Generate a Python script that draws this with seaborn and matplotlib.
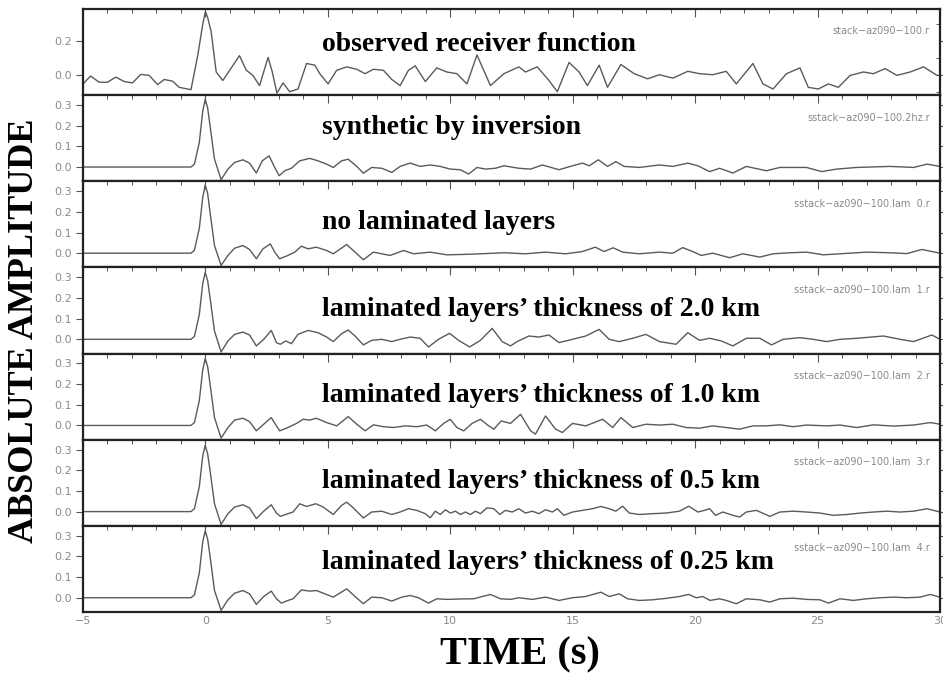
import numpy as np
import pandas as pd
import matplotlib
matplotlib.use("Agg")
import matplotlib.pyplot as plt
import seaborn as sns
from matplotlib.ticker import MultipleLocator, FixedLocator

sns.set_theme(style="white")
plt.rcParams['font.family'] = ['DejaVu Sans']

# ---------------- data (time in s, amplitude) ----------------
t_obs = [-5.0, -4.69, -4.34, -4.0, -3.66, -3.32, -2.98, -2.64, -2.30, -1.95, -1.68, -1.34, -1.07, -0.59,
         -0.31, -0.11, 0.0, 0.09, 0.23, 0.44, 0.71, 1.39, 1.67, 1.94, 2.21, 2.56, 2.73, 2.92, 3.17, 3.44,
         3.78, 4.13, 4.47, 4.67, 5.01, 5.36, 5.77, 6.18, 6.52, 6.86, 7.27, 7.61, 7.95, 8.29, 8.57, 8.98,
         9.45, 9.86, 10.27, 10.68, 11.09, 11.64, 12.19, 12.80, 13.07, 13.55, 14.03, 14.37, 14.85, 15.26,
         15.60, 16.08, 16.42, 16.97, 17.51, 18.06, 18.54, 19.09, 19.70, 20.18, 20.72, 21.27, 21.68, 22.36,
         22.77, 23.18, 23.73, 24.28, 24.62, 25.03, 25.44, 25.85, 26.33, 26.87, 27.28, 27.76, 28.24, 28.78,
         29.33, 29.88, 30.0]
a_obs = [-0.05, -0.004, -0.04, -0.04, -0.01, -0.036, -0.044, 0.006, 0.0, -0.054, -0.024, -0.034, -0.07, -0.084,
         0.12, 0.30, 0.376, 0.34, 0.26, 0.02, -0.03, 0.116, 0.03, 0.0, -0.06, 0.106, 0.02, -0.104, -0.044, -0.096,
         -0.08, 0.07, 0.06, 0.01, -0.05, 0.03, 0.05, 0.036, 0.01, 0.036, 0.03, -0.024, -0.06, 0.03, 0.056, -0.036,
         0.044, 0.02, 0.01, -0.05, 0.12, -0.06, 0.01, 0.05, 0.02, 0.05, -0.03, -0.096, 0.076, 0.02,
         -0.06, 0.06, -0.07, 0.064, 0.01, -0.02, 0.004, -0.016, 0.024, 0.01, 0.004, 0.024, -0.05, 0.07,
         -0.05, -0.08, 0.01, 0.044, -0.07, -0.08, -0.05, -0.07, 0.0, 0.02, 0.01, 0.04, 0.0, 0.02,
         0.05, 0.0, 0.0]

t_inv = [-5.0, -0.59, -0.45, -0.25, -0.11, -0.01, 0.09, 0.19, 0.37, 0.64, 0.92, 1.19, 1.53, 1.80, 2.08, 2.32,
         2.60, 2.83, 3.01, 3.24, 3.51, 3.85, 4.26, 4.60, 4.95, 5.22, 5.56, 5.83, 6.18, 6.45, 6.79, 7.20, 7.61,
         7.95, 8.36, 8.77, 9.18, 9.59, 10.00, 10.41, 10.75, 11.09, 11.43, 11.84, 12.19, 12.80, 13.28, 13.76,
         14.44, 14.99, 15.40, 15.67, 16.05, 16.42, 16.76, 17.10, 17.72, 18.54, 19.09, 19.70, 20.11, 20.59,
         21.00, 21.54, 22.09, 22.91, 23.46, 24.55, 25.16, 25.78, 26.60, 27.96, 28.92, 29.47, 30.0]
a_inv = [0.0, 0.0, 0.014, 0.119, 0.27, 0.327, 0.287, 0.199, 0.038, -0.061, -0.010, 0.022, 0.035, 0.019, -0.029, 0.030,
         0.054, -0.002, -0.042, -0.018, -0.006, 0.030, 0.042, 0.030, 0.014, -0.002, 0.030, 0.038, 0.003, -0.030, -0.002, -0.006, -0.026,
         0.003, 0.019, 0.003, 0.010, 0.003, -0.010, -0.013, -0.034, -0.002, -0.010, -0.006, 0.006, -0.006, -0.010, 0.010,
         -0.013, 0.006, 0.019, 0.006, 0.035, 0.003, 0.026, 0.003, -0.002, 0.010, 0.003, 0.019, 0.006, -0.022,
         -0.006, -0.029, 0.003, -0.018, -0.002, -0.002, -0.022, -0.010, -0.002, 0.003, -0.002, 0.014, 0.003]

t_lam0 = [-5.0, -0.59, -0.45, -0.25, -0.11, -0.01, 0.09, 0.19, 0.37, 0.64, 0.92, 1.19, 1.53, 1.80, 2.08, 2.35,
          2.65, 2.83, 3.03, 3.37, 3.65, 3.92, 4.19, 4.53, 4.95, 5.22, 5.77, 6.11, 6.45, 6.86, 7.20, 7.54, 8.09,
          8.50, 9.18, 9.86, 10.55, 11.23, 12.19, 13.07, 13.89, 14.71, 15.40, 15.92, 16.28, 16.65, 17.04, 17.72,
          18.54, 19.09, 19.49, 19.90, 20.25, 20.72, 21.41, 21.95, 22.64, 23.18, 23.87, 24.55, 25.23, 25.92,
          27.01, 27.96, 28.65, 29.26, 30.0]
a_lam0 = [0.0, 0.0, 0.014, 0.12, 0.27, 0.33, 0.29, 0.197, 0.037, -0.059, -0.011, 0.024, 0.037, 0.018, -0.027, 0.021,
          0.045, 0.005, -0.027, -0.011, 0.005, 0.034, 0.021, 0.029, 0.013, -0.003, 0.042, 0.005, -0.032, 0.005, -0.003, -0.011, 0.013,
          -0.003, 0.005, -0.008, -0.006, -0.003, 0.002, -0.003, 0.005, -0.003, 0.008, 0.029, 0.008, 0.026, 0.005, -0.003,
          0.005, 0.0, 0.027, 0.008, -0.011, 0.0, -0.022, -0.003, -0.019, -0.003, 0.002, 0.005, -0.008, -0.003,
          0.005, 0.002, -0.002, 0.018, 0.0]

t_lam1 = [-5.0, -0.59, -0.45, -0.25, -0.11, -0.01, 0.09, 0.19, 0.37, 0.64, 0.92, 1.19, 1.53, 1.80, 2.08, 2.38,
          2.69, 2.90, 3.06, 3.28, 3.51, 3.78, 4.19, 4.60, 4.95, 5.22, 5.56, 5.83, 6.11, 6.45, 6.79, 7.20, 7.61,
          7.95, 8.36, 8.77, 9.11, 9.52, 9.97, 10.34, 10.79, 11.23, 11.71, 12.12, 12.46, 12.73, 13.21, 13.62,
          14.03, 14.44, 14.99, 15.53, 16.08, 16.49, 16.90, 17.45, 17.99, 18.54, 19.22, 19.70, 20.18, 20.59,
          21.07, 21.54, 22.09, 22.64, 23.12, 23.59, 24.28, 24.82, 25.37, 25.92, 26.60, 27.69, 28.37, 28.92,
          29.67, 30.0]
a_lam1 = [0.0, 0.0, 0.014, 0.12, 0.27, 0.324, 0.285, 0.2, 0.040, -0.061, -0.008, 0.024, 0.035, 0.021, -0.032, 0.0,
          0.043, -0.016, -0.024, -0.008, -0.021, 0.024, 0.043, 0.032, 0.011, -0.011, 0.027, 0.045, 0.016, -0.027, -0.005, 0.0, -0.011,
          0.0, 0.011, 0.005, -0.037, 0.0, 0.029, -0.005, -0.037, -0.005, 0.053, -0.011, -0.032, -0.011, 0.016, 0.011,
          0.021, -0.016, 0.0, 0.016, 0.048, 0.0, -0.011, 0.005, 0.024, -0.011, -0.024, 0.032, -0.005, 0.005,
          -0.008, -0.032, 0.005, 0.005, -0.027, 0.0, 0.008, 0.0, -0.011, 0.0, 0.005, 0.016, 0.0, -0.011,
          0.021, 0.0]

t_lam2 = [-5.0, -0.59, -0.45, -0.25, -0.11, -0.01, 0.09, 0.19, 0.37, 0.64, 0.92, 1.19, 1.53, 1.80, 2.08, 2.38,
          2.69, 2.90, 3.03, 3.37, 3.72, 3.99, 4.26, 4.53, 4.95, 5.36, 5.83, 6.18, 6.52, 6.86, 7.27, 7.68, 8.16,
          8.63, 9.04, 9.39, 9.73, 10.00, 10.27, 10.55, 10.89, 11.23, 11.57, 11.78, 12.08, 12.46, 12.87, 13.28,
          13.48, 13.89, 14.30, 14.58, 14.99, 15.53, 16.22, 16.63, 16.97, 17.45, 17.99, 18.54, 19.09, 19.63,
          20.18, 20.72, 21.27, 21.82, 22.36, 22.91, 23.46, 24.00, 24.55, 25.37, 25.92, 26.60, 27.28, 28.10,
          28.92, 29.60, 30.0]
a_lam2 = [0.0, 0.0, 0.014, 0.12, 0.27, 0.324, 0.285, 0.2, 0.038, -0.061, -0.010, 0.026, 0.035, 0.019, -0.026, 0.006,
          0.038, -0.002, -0.026, -0.010, 0.010, 0.030, 0.026, 0.035, 0.014, -0.002, 0.043, 0.006, -0.026, 0.003, -0.006, -0.010, -0.002,
          -0.006, 0.002, -0.026, 0.010, 0.030, -0.010, -0.026, 0.010, 0.030, -0.002, -0.018, 0.022, 0.010, 0.054, -0.026,
          -0.042, 0.046, -0.018, -0.034, 0.010, -0.002, 0.030, -0.010, 0.038, -0.010, 0.006, 0.002, 0.006, -0.010,
          -0.013, -0.002, -0.010, -0.018, -0.002, -0.002, 0.003, -0.006, 0.002, -0.002, 0.002, -0.010, 0.003, -0.003,
          0.002, 0.014, 0.006]

t_lam3 = [-5.0, -0.59, -0.45, -0.25, -0.11, -0.01, 0.09, 0.19, 0.37, 0.64, 0.92, 1.19, 1.53, 1.80, 2.08, 2.38,
          2.69, 2.90, 3.06, 3.37, 3.58, 3.85, 4.13, 4.51, 4.81, 5.22, 5.56, 5.77, 6.04, 6.45, 6.79, 7.20, 7.61,
          7.95, 8.29, 8.63, 8.98, 9.18, 9.39, 9.59, 9.80, 10.00, 10.21, 10.41, 10.62, 10.82, 11.03, 11.23, 11.50,
          11.78, 12.02, 12.25, 12.53, 12.80, 13.07, 13.35, 13.62, 13.89, 14.17, 14.37, 14.64, 14.99, 15.40,
          15.81, 16.15, 16.49, 16.76, 17.04, 17.31, 17.72, 18.26, 18.81, 19.36, 19.74, 20.11, 20.38, 20.59,
          20.83, 21.13, 21.54, 21.82, 22.09, 22.50, 23.05, 23.46, 24.00, 24.55, 25.10, 25.64, 26.19, 26.74,
          27.28, 27.83, 28.37, 28.92, 29.47, 30.0]
a_lam3 = [0.0, 0.0, 0.014, 0.12, 0.27, 0.32, 0.28, 0.198, 0.038, -0.062, -0.010, 0.022, 0.033, 0.018, -0.034, 0.002,
          0.033, -0.007, -0.023, -0.010, -0.002, 0.038, 0.025, 0.038, 0.022, -0.014, 0.030, 0.046, 0.018, -0.031, -0.002, 0.002, -0.014,
          -0.002, 0.014, 0.006, -0.010, -0.030, 0.002, -0.014, 0.009, -0.007, 0.002, -0.014, -0.002, -0.014, 0.002, -0.010, 0.018,
          0.014, -0.014, 0.006, -0.002, 0.014, -0.007, 0.002, -0.010, 0.009, -0.002, 0.014, -0.018, -0.002, 0.006,
          0.014, 0.025, 0.014, 0.002, 0.026, -0.007, -0.014, -0.010, -0.007, 0.002, 0.026, -0.002, 0.006, 0.014,
          -0.018, -0.002, -0.018, -0.026, -0.002, 0.006, -0.023, -0.002, 0.002, -0.002, -0.007, -0.018, -0.014, -0.007,
          -0.002, 0.002, -0.002, 0.002, 0.014, -0.002]

t_lam4 = [-5.0, -0.59, -0.45, -0.25, -0.11, -0.01, 0.09, 0.19, 0.37, 0.64, 0.92, 1.19, 1.53, 1.80, 2.08, 2.38,
          2.69, 2.90, 3.10, 3.37, 3.58, 3.92, 4.26, 4.53, 4.88, 5.22, 5.77, 6.11, 6.45, 6.79, 7.20, 7.61, 8.02,
          8.36, 8.70, 9.11, 9.45, 9.86, 10.41, 10.96, 11.64, 12.05, 12.46, 12.80, 13.35, 13.89, 14.44, 14.99,
          15.53, 16.15, 16.49, 16.90, 17.24, 17.72, 18.26, 18.81, 19.36, 19.74, 20.04, 20.31, 20.61, 21.00,
          21.27, 21.68, 22.09, 22.64, 23.05, 23.46, 24.00, 24.55, 25.10, 25.44, 25.92, 26.46, 27.01, 27.55,
          28.10, 28.65, 29.19, 29.60, 30.0]
a_lam4 = [0.0, 0.0, 0.014, 0.12, 0.27, 0.324, 0.285, 0.2, 0.035, -0.061, -0.010, 0.022, 0.035, 0.019, -0.032, 0.006,
          0.032, -0.005, -0.026, -0.013, -0.005, 0.038, 0.032, 0.035, 0.019, 0.003, 0.043, 0.006, -0.029, 0.003, 0.0, -0.016, 0.003,
          0.011, 0.0, -0.026, -0.005, -0.008, -0.006, -0.005, 0.016, -0.005, -0.008, 0.0, -0.008, 0.003, -0.013, 0.0,
          0.006, 0.027, 0.006, 0.019, -0.005, -0.013, -0.010, -0.003, 0.006, 0.016, 0.0, 0.006, -0.013, -0.005,
          -0.013, -0.029, -0.005, -0.010, -0.021, -0.005, -0.002, -0.008, -0.010, -0.026, -0.005, -0.013, -0.005, 0.0,
          0.003, 0.0, 0.003, 0.016, 0.003]

titles = ["observed receiver function",
          "synthetic by inversion",
          "no laminated layers",
          "laminated layers\u2019 thickness of 2.0 km",
          "laminated layers\u2019 thickness of 1.0 km",
          "laminated layers\u2019 thickness of 0.5 km",
          "laminated layers\u2019 thickness of 0.25 km"]
file_labels = ["stack\u2212az090\u2212100.r",
               "sstack\u2212az090\u2212100.2hz.r",
               "sstack\u2212az090\u2212100.lam  0.r",
               "sstack\u2212az090\u2212100.lam  1.r",
               "sstack\u2212az090\u2212100.lam  2.r",
               "sstack\u2212az090\u2212100.lam  3.r",
               "sstack\u2212az090\u2212100.lam  4.r"]
x_ticks = [-5, 0, 5, 10, 15, 20, 25, 30]
top_yticks = [0.0, 0.2]
other_yticks = [0.0, 0.1, 0.2, 0.3]

series = [(t_obs, a_obs), (t_inv, a_inv), (t_lam0, a_lam0), (t_lam1, a_lam1),
          (t_lam2, a_lam2), (t_lam3, a_lam3), (t_lam4, a_lam4)]

# ---------------- layout ----------------
fig = plt.figure(figsize=(9.43, 6.75), dpi=100)
left, right = 83 / 943, 940 / 943
top, bottom = 1 - 9 / 675, 1 - 612 / 675
axes = fig.subplots(7, 1, sharex=True,
                    gridspec_kw=dict(hspace=0, left=left, right=right, top=top, bottom=bottom))

title_y = [0.59, 0.62, 0.52, 0.51, 0.51, 0.52, 0.58]
tick_color = "#8a8a8a"
line_color = "#5a5a5a"

for i, ax in enumerate(axes):
    t, a = series[i]
    df = pd.DataFrame({"time": t, "amp": a})
    sns.lineplot(data=df, x="time", y="amp", ax=ax, color=line_color, lw=1.0,
                 estimator=None, sort=False)
    ax.set_xlim(-5, 30)
    if i == 0:
        ax.set_ylim(-0.116, 0.39)
        ax.yaxis.set_major_locator(FixedLocator(top_yticks))
        ax.yaxis.set_minor_locator(MultipleLocator(0.1))
    else:
        ax.set_ylim(-0.069, 0.348)
        ax.yaxis.set_major_locator(FixedLocator(other_yticks))
    ax.yaxis.set_major_formatter(matplotlib.ticker.FormatStrFormatter("%.1f"))
    ax.xaxis.set_major_locator(FixedLocator(x_ticks))
    ax.xaxis.set_minor_locator(MultipleLocator(1))
    ax.tick_params(axis="both", which="major", direction="in", length=6, width=0.8,
                   color="#555555", top=True, right=True, labelsize=8, labelcolor=tick_color, pad=3)
    ax.tick_params(axis="both", which="minor", direction="in", length=3, width=0.7,
                   color="#555555", top=True, right=True)
    ax.tick_params(axis="y", which="major", direction="out", length=5, left=True, right=True)
    for s in ax.spines.values():
        s.set_linewidth(1.6)
        s.set_color("#222222")
    ax.set_xlabel("")
    ax.set_ylabel("")
    ax.text(0.279, title_y[i], titles[i], transform=ax.transAxes, ha="left", va="center",
            fontsize=20, fontweight="bold", family="Liberation Serif", color="black")
    ax.text(0.988, 0.74, file_labels[i], transform=ax.transAxes, ha="right", va="center",
            fontsize=7, color=tick_color)

axes[-1].tick_params(axis="x", which="major", labelbottom=True)
fig.text(0.026, 0.51, "ABSOLUTE AMPLITUDE", rotation=90, ha="center", va="center",
         fontsize=26, fontweight="bold", family="Liberation Serif", color="black")
fig.text(0.551, 0.03, "TIME (s)", ha="center", va="center",
         fontsize=29, fontweight="bold", family="Liberation Serif", color="black")

fig.savefig("out.png", dpi=100)
